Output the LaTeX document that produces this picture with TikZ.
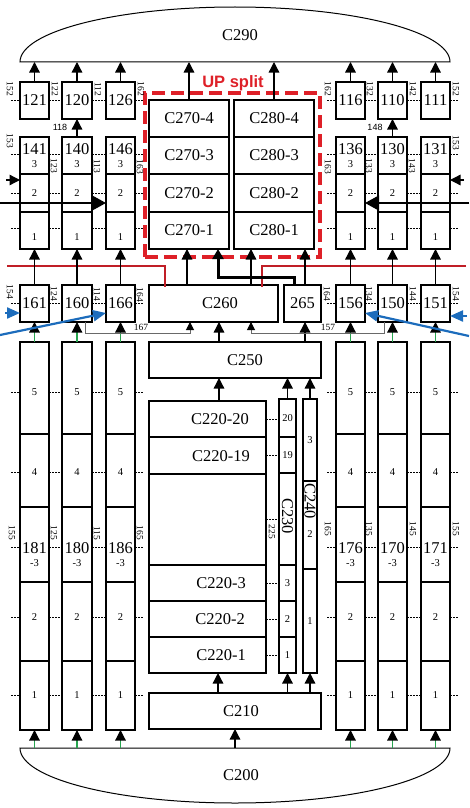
\documentclass[tikz,border=0pt]{standalone}
\usepackage{fontspec}
\setmainfont{Liberation Serif}
\setsansfont{Liberation Sans}
\usetikzlibrary{arrows.meta}
\definecolor{upred}{RGB}{222,32,40}
\definecolor{linered}{RGB}{192,30,38}
\definecolor{arrblue}{RGB}{28,108,188}
\definecolor{arrgreen}{RGB}{40,165,80}
\definecolor{lgray}{RGB}{105,105,105}
\newcommand{\bigf}{\fontsize{16.5}{18}\selectfont}
\newcommand{\smf}{\fontsize{10.5}{12}\selectfont}
\newcommand{\reff}{\fontsize{9.5}{10}\selectfont}
\newcommand{\mkcell}[7][]{\node[cellbox,minimum width={(#5-#3)*1pt},minimum height={(#6-#4)*1pt},#1] (#2) at ({(#3+#5)/2},{(#4+#6)/2}) {#7};}
\newcommand{\dotrow}[4]{%
  \draw[dotl] ([xshift=-9pt,yshift=#4]#1.west) -- ([yshift=#4]#1.west);
  \draw[dotl] ([yshift=#4]#1.east) -- ([yshift=#4]#2.west);
  \draw[dotl] ([yshift=#4]#2.east) -- ([yshift=#4]#3.west);
  \draw[dotl] ([yshift=#4]#3.east) -- ([xshift=9pt,yshift=#4]#3.east);}
\tikzset{
  cellbox/.style={draw,line width=1.2pt,inner sep=0pt,outer sep=0pt,font=\bigf},
  txt/.style={inner sep=0pt,font=\smf},
  bigtxt/.style={inner sep=0pt,font=\bigf},
  reflab/.style={inner sep=0pt,font=\reff,rotate=-90},
  dotl/.style={line width=1pt,dash pattern=on 1.5pt off 1.5pt},
  arr/.style={line width=1.3pt,-{Triangle[width=10.5pt,length=10.5pt]}},
  garr/.style={line width=1.2pt,draw=arrgreen,-{Triangle[width=10.5pt,length=10.5pt,color=black]}},
  bigarr/.style={line width=1.5pt,-{Triangle[width=15pt,length=14pt]}},
  thickarr/.style={line width=3pt,-{Triangle[width=11pt,length=10pt]}},
  grayarr/.style={line width=1pt,draw=lgray,-{Triangle[width=8pt,length=8pt,color=black]}},
  bluearr/.style={line width=2.2pt,draw=arrblue,-{Triangle[width=11pt,length=13pt]}},
  redl/.style={line width=2pt,draw=linered},
  dashbox/.style={draw=upred,line width=3.2pt,dash pattern=on 13pt off 6pt,inner sep=0pt},
  bigshape/.style={draw,line width=1pt},
}
\begin{document}
\begin{tikzpicture}[x=1pt,y=-1pt]
\useasboundingbox (0,0) rectangle (469,808);
% C290 and C200
\draw[bigshape] (20,62) .. controls (20,31.6) and (116.3,7) .. (235,7) .. controls (353.7,7) and (450,31.6) .. (450,62) -- cycle;
\node[bigtxt] (c290) at (240,35) {C290};
\coordinate (c290b) at (235,62);
\draw[bigshape] (20,748) .. controls (20,778.4) and (116.3,803) .. (235,803) .. controls (353.7,803) and (450,778.4) .. (450,748) -- cycle;
\node[bigtxt] (c200) at (241,775) {C200};
\coordinate (c200t) at (235,748);
% UP split
\node[dashbox,minimum width=175pt,minimum height=164pt] (upsplit) at (232.5,175) {};
\node[inner sep=0pt,font=\sffamily\bfseries\fontsize{16.5}{18}\selectfont,text=upred] (uplab) at (233,83) {UP split};
% top small boxes
\mkcell{n121}{20}{82}{49}{119}{121}
\mkcell{n120}{62}{82}{92}{119}{120}
\mkcell{n126}{106}{82}{135}{119}{126}
\mkcell{n116}{336}{82}{365}{119}{116}
\mkcell{n110}{378}{82}{407}{119}{110}
\mkcell{n111}{421}{82}{450}{119}{111}
% upper stacks
\foreach \nm/\xa/\xb in {141/20/49,140/62/92,146/106/135,136/336/365,130/378/407,131/421/450}{
  \mkcell{s\nm c}{\xa}{137}{\xb}{174}{}
  \mkcell[font=\smf]{s\nm b}{\xa}{174}{\xb}{212}{2}
  \mkcell{s\nm a}{\xa}{212}{\xb}{249}{}
  \node[bigtxt] (t\nm) at ({(\xa+\xb)/2},149) {\nm};
  \node[txt] (t\nm c) at ({(\xa+\xb)/2},164) {3};
  \node[txt] (t\nm a) at ({(\xa+\xb)/2},237) {1};
}
% lower boxes
\foreach \nm/\xa/\xb in {161/20/49,160/62/92,166/106/135,156/336/365,150/378/407,151/421/450}{
  \mkcell{n\nm}{\xa}{285}{\xb}{322}{\nm}
}
% lower stacks
\foreach \nm/\xa/\xb in {181/20/49,180/62/92,186/106/135,176/336/365,170/378/407,171/421/450}{
  \mkcell{L\nm e}{\xa}{342}{\xb}{434}{}
  \mkcell{L\nm d}{\xa}{434}{\xb}{507}{}
  \mkcell{L\nm c}{\xa}{507}{\xb}{582}{}
  \mkcell{L\nm b}{\xa}{582}{\xb}{661}{}
  \mkcell{L\nm a}{\xa}{661}{\xb}{730}{}
  \node[txt] (u\nm e) at ({(\xa+\xb)/2},392) {5};
  \node[txt] (u\nm d) at ({(\xa+\xb)/2},472) {4};
  \node[bigtxt] (u\nm) at ({(\xa+\xb)/2},548) {\nm};
  \node[txt] (u\nm c) at ({(\xa+\xb)/2},563) {-3};
  \node[txt] (u\nm b) at ({(\xa+\xb)/2},617) {2};
  \node[txt] (u\nm a) at ({(\xa+\xb)/2},695) {1};
}
% C270 / C280
\mkcell{c270d}{149}{100}{229}{137}{C270-4}
\mkcell{c270c}{149}{137}{229}{174}{C270-3}
\mkcell{c270b}{149}{174}{229}{212}{C270-2}
\mkcell{c270a}{149}{212}{229}{249}{C270-1}
\mkcell{c280d}{234}{100}{314}{137}{C280-4}
\mkcell{c280c}{234}{137}{314}{174}{C280-3}
\mkcell{c280b}{234}{174}{314}{212}{C280-2}
\mkcell{c280a}{234}{212}{314}{249}{C280-1}
% C260, 265, C250
\mkcell{c260}{149}{285}{278}{322}{}
\node[bigtxt] (c260t) at (220,303.5) {C260};
\mkcell{n265}{284}{285}{321}{322}{265}
\mkcell{c250}{149}{342}{321}{378}{}
\node[bigtxt] (c250t) at (245,360) {C250};
% C220
\mkcell{c220t}{149}{401}{266}{437}{}
\mkcell{c220s}{149}{437}{266}{474}{}
\mkcell{c220m}{149}{474}{266}{565}{}
\mkcell{c220c}{149}{565}{266}{601}{}
\mkcell{c220b}{149}{601}{266}{637}{}
\mkcell{c220a}{149}{637}{266}{673}{}
\node[bigtxt] (l220t) at (220,419) {C220-20};
\node[bigtxt] (l220s) at (221,456) {C220-19};
\node[bigtxt] (l220c) at (221,583) {C220-3};
\node[bigtxt] (l220b) at (220,619) {C220-2};
\node[bigtxt] (l220a) at (221,655) {C220-1};
% C230
\mkcell[font=\smf]{c230t}{279}{399}{296}{437}{20}
\mkcell[font=\smf]{c230s}{279}{437}{296}{473}{19}
\mkcell{c230m}{279}{473}{296}{565}{}
\mkcell[font=\smf]{c230c}{279}{565}{296}{601}{3}
\mkcell[font=\smf]{c230b}{279}{601}{296}{637}{2}
\mkcell[font=\smf]{c230a}{279}{637}{296}{673}{1}
\node[bigtxt,rotate=-90] (l230) at (287.5,516) {C230};
% C240
\mkcell[font=\smf]{c240c}{303}{399}{317}{481}{3}
\mkcell{c240b}{303}{481}{317}{569}{}
\mkcell[font=\smf]{c240a}{303}{569}{317}{673}{1}
\node[bigtxt,rotate=-90] (l240) at (310,501) {C240};
\node[txt] (l240b) at (310,534) {2};
% C210
\mkcell{c210}{149}{693}{321}{729}{}
\node[bigtxt] (c210t) at (241,711) {C210};
% dotted rows
\dotrow{n121}{n120}{n126}{0pt}
\dotrow{n116}{n110}{n111}{0pt}
\dotrow{s141c}{s140c}{s146c}{1.5pt}
\dotrow{s136c}{s130c}{s131c}{1.5pt}
\dotrow{s141b}{s140b}{s146b}{0pt}
\dotrow{s136b}{s130b}{s131b}{0pt}
\dotrow{s141a}{s140a}{s146a}{2.5pt}
\dotrow{s136a}{s130a}{s131a}{2.5pt}
\dotrow{n161}{n160}{n166}{0pt}
\dotrow{n156}{n150}{n151}{0pt}
\dotrow{L181e}{L180e}{L186e}{-4pt}
\dotrow{L176e}{L170e}{L171e}{-4pt}
\dotrow{L181d}{L180d}{L186d}{-1.5pt}
\dotrow{L176d}{L170d}{L171d}{-1.5pt}
\dotrow{L181c}{L180c}{L186c}{-2.5pt}
\dotrow{L176c}{L170c}{L171c}{-2.5pt}
\dotrow{L181b}{L180b}{L186b}{4.5pt}
\dotrow{L176b}{L170b}{L171b}{4.5pt}
\dotrow{L181a}{L180a}{L186a}{0pt}
\dotrow{L176a}{L170a}{L171a}{0pt}
\foreach \r in {c220t,c220s,c220m,c220c,c220b,c220a}{
  \draw[dotl] (\r.east) -- (\r.east -| c230t.west);
}
% reference labels
\foreach \x/\y/\t [count=\i] in {10/89/152,55/89/122,98/89/112,141/89/162,328/89/162,370/89/132,413/89/142,456/89/152,
  10/141/153,54/166/123,97/166/113,140/167/163,328/167/163,369/166/133,412/166/143,456/143/153,
  10/292/154,54/294/124,97/294/114,140/295/164,327/294/164,369/294/134,413/294/144,456/294/154,
  12/533/155,54/533/125,97/533/115,140/533/165,328/529/165,369/529/135,413/529/145,456/529/155,272/532/225}{
  \node[reflab] (ref\i) at (\x,\y) {\t};
}
\node[inner sep=0pt,font=\sffamily\fontsize{9}{10}\selectfont] (lab118) at (60,127) {118};
\node[inner sep=0pt,font=\sffamily\fontsize{9}{10}\selectfont] (lab148) at (375,127) {148};
\node[inner sep=0pt,font=\reff] (lab167) at (141,327) {167};
\node[inner sep=0pt,font=\reff] (lab157) at (328,327) {157};
% red lines
\coordinate (redL) at (7,266);
\coordinate (redR) at (466,266);
\draw[redl] (redL) -| ([xshift=-48.5pt,yshift=-2pt]c260.north);
\draw[redl] (redR) -| ([xshift=48.5pt,yshift=-2pt]c260.north);
% arrows to C290
\foreach \n in {n121,n120,n126,n116,n110,n111,c270d,c280d}{
  \draw[arr] (\n.north) -- (\n.north |- c290b);
}
\draw[arr] (s140c.north) -- (n120.south);
\draw[arr] (s130c.north) -- (n110.south);
\foreach \a/\b in {161/141,160/140,166/146,156/136,150/130,151/131}{
  \draw[arr] (n\a.north) -- (s\b a.south);
}
\foreach \a/\b in {181/161,180/160,186/166,176/156,170/150,171/151}{
  \draw[garr] (L\a e.north) -- (n\b.south);
  \draw[garr] (L\a a.south |- c200t) -- (L\a a.south);
}
% middle arrows
\draw[arr] (c210.south |- c200t) -- (c210.south);
\draw[arr] ([xshift=-17pt]c210.north) -- ([xshift=10.5pt]c220a.south);
\draw[arr] (c230a.south |- c210.north) -- (c230a.south);
\draw[arr] (c240a.south |- c210.north) -- (c240a.south);
\draw[arr] ([xshift=11.5pt]c220t.north) -- ([xshift=-16pt]c250.south);
\draw[arr] (c230t.north) -- (c230t.north |- c250.south);
\draw[arr] (c240c.north) -- (c240c.north |- c250.south);
\draw[arr] ([xshift=-16pt]c250.north) -- ([xshift=5.5pt]c260.south);
\draw[arr] ([xshift=70pt]c250.north) -- ([xshift=2.5pt]n265.south);
\draw[arr] ([xshift=-26.5pt]c260.north) -- ([xshift=-2pt]c270a.south);
\draw[arr] ([xshift=37.5pt]c260.north) -- ([xshift=-23pt]c280a.south);
\draw[arr] ([xshift=2.5pt]n265.north) -- ([xshift=31pt]c280a.south);
\draw[thickarr] ([xshift=-8.5pt]n265.north) |- ([xshift=29pt,yshift=-28pt]c270a.south) -- ([xshift=29pt]c270a.south);
% gray 167 / 157
\draw[grayarr] ([xshift=8pt]n160.south) |- ([xshift=-23.5pt,yshift=-11pt]c260.south) -- ([xshift=-23.5pt]c260.south);
\draw[grayarr] ([xshift=-8.5pt]n150.south) |- ([xshift=37.5pt,yshift=-11pt]c260.south) -- ([xshift=37.5pt]c260.south);
% black side arrows
\coordinate (kL1) at (6,180);
\coordinate (kL2) at (0,203);
\coordinate (kR1) at (464,180);
\coordinate (kR2) at (469,203);
\draw[arr] (kL1) -- ([yshift=13pt]s141b.west);
\draw[bigarr] (kL2) -- ([yshift=-10pt]s146b.west);
\draw[arr] (kR1) -- ([yshift=13pt]s131b.east);
\draw[bigarr] (kR2) -- ([yshift=-10pt]s136b.east);
% blue side arrows
\coordinate (bL1) at (5,313);
\coordinate (bL2) at (0,335);
\coordinate (bR1) at (467,316);
\coordinate (bR2) at (469,336);
\draw[bluearr] (bL1) -- ([yshift=-9.5pt]n161.west);
\draw[bluearr] (bL2) -- ([yshift=-9.5pt]n166.west);
\draw[bluearr] (bR1) -- ([yshift=-12.5pt]n151.east);
\draw[bluearr] (bR2) -- ([yshift=-9.5pt]n156.east);
\end{tikzpicture}
\end{document}
